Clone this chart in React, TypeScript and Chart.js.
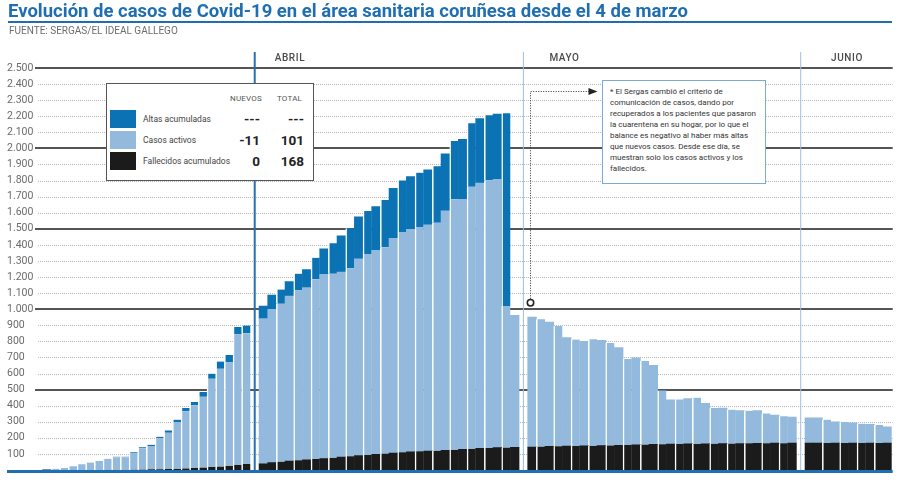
import React, { useEffect, useRef } from 'react';
import { Chart, registerables } from 'chart.js';

Chart.register(...registerables);

// ---- categories (days of each month shown) ----
const MARCH_DAYS = [8, 9, 10, 11, 12, 13, 14, 15, 16, 17, 18, 19, 20, 21, 22, 23, 24, 25, 26, 27, 28, 29, 30, 31];
const APRIL_DAYS = [1, 2, 3, 4, 5, 6, 7, 8, 9, 10, 11, 12, 13, 14, 15, 16, 17, 18, 19, 20, 21, 22, 23, 24, 25, 26, 27, 28, 29, 30];
const MAY_DAYS = [1, 2, 3, 4, 5, 6, 7, 8, 9, 10, 11, 12, 13, 14, 15, 16, 17, 18, 19, 20, 21, 22, 23, 24, 25, 26, 27, 28, 29, 30, 31];
const JUNE_DAYS = [1, 2, 3, 4, 5, 6, 7, 8, 9, 10];
const MONTH_LABELS = ['ABRIL', 'MAYO', 'JUNIO'];

// ---- series: fallecidos acumulados ----
const MARCH_DEATHS = [0, 0, 0, 0, 0, 0, 0, 1, 1, 1, 2, 3, 4, 5, 6, 8, 10, 12, 15, 18, 22, 26, 32, 37];
const APRIL_DEATHS = [39, 46, 52, 56, 60, 64, 68, 71, 76, 80, 85, 90, 94, 97, 102, 106, 110, 113, 116, 118, 120, 122, 126, 129, 132, 135, 137, 139, 140, 141];
const MAY_DEATHS = [143, 146, 147, 148, 149, 150, 150, 151, 152, 153, 154, 156, 157, 158, 159, 160, 161, 161, 162, 162, 163, 164, 164, 165, 165, 166, 166, 167, 167, 167, 167];
const JUNE_DEATHS = [168, 168, 168, 168, 168, 168, 168, 168, 168, 168];

// ---- series: casos activos ----
const MARCH_ACTIVE = [3, 7, 13, 24, 36, 46, 56, 69, 78, 78, 105, 132, 146, 193, 226, 290, 356, 390, 440, 550, 607, 643, 811, 814];
const APRIL_ACTIVE = [902, 953, 982, 1026, 1057, 1070, 1118, 1146, 1145, 1151, 1169, 1224, 1249, 1269, 1283, 1335, 1370, 1384, 1395, 1406, 1418, 1489, 1557, 1554, 1630, 1650, 1664, 1669, 880, 821];
const MAY_ACTIVE = [808, 791, 773, 748, 674, 661, 650, 662, 654, 637, 607, 534, 540, 520, 492, 335, 276, 278, 282, 288, 251, 221, 221, 210, 204, 203, 203, 185, 175, 168, 162];
const JUNE_ACTIVE = [157, 156, 145, 132, 130, 126, 120, 116, 112, 101];

// ---- series: altas acumuladas (no longer reported after 29 April) ----
const MARCH_RECOVERED = [0, 0, 0, 0, 0, 0, 0, 0, 4, 4, 5, 6, 7, 9, 14, 15, 19, 21, 30, 31, 45, 46, 46, 47];
const APRIL_RECOVERED = [79, 89, 88, 89, 104, 112, 134, 159, 189, 226, 249, 261, 268, 272, 294, 311, 321, 327, 338, 342, 351, 356, 363, 373, 394, 400, 405, 405, 1198, null];
const MAY_RECOVERED: (number | null)[] = MAY_DAYS.map(() => null);
const JUNE_RECOVERED: (number | null)[] = JUNE_DAYS.map(() => null);

const Y_MAX = 2500;
const Y_STEP = 100;
const MARKER_VALUE = 1040;
const ARROW_VALUE = 2355;

const C_DARK = '#0b72b4';
const C_LIGHT = '#93b9dd';
const C_BLACK = '#1b1b1b';
const C_TITLE = '#1f6eb4';

function joinMonths<T>(a: T[], b: T[], c: T[], d: T[]): (T | null)[] {
  return [...a, null, ...b, null, ...c, null, ...d];
}

const labels = joinMonths(
  MARCH_DAYS.map((d) => `${d} mar`),
  APRIL_DAYS.map((d) => `${d} abr`),
  MAY_DAYS.map((d) => `${d} may`),
  JUNE_DAYS.map((d) => `${d} jun`)
).map((l) => (l === null ? '' : l));

const gapIndices = [MARCH_DAYS.length, MARCH_DAYS.length + 1 + APRIL_DAYS.length, MARCH_DAYS.length + APRIL_DAYS.length + MAY_DAYS.length + 2];

// white separators between bars (per bar in March, pairs afterwards)
const separators: boolean[] = [];
MARCH_DAYS.forEach((_, i) => separators.push(i > 0));
separators.push(false);
APRIL_DAYS.forEach((_, i) => separators.push(i > 0 && i % 2 === 0));
separators.push(false);
MAY_DAYS.forEach((_, i) => separators.push(i % 2 === 1));
separators.push(false);
JUNE_DAYS.forEach((_, i) => separators.push(i > 0 && i % 2 === 0));

const fmt = (v: number) => String(v).replace(/\B(?=(\d{3})+(?!\d))/g, '.');

const overlayPlugin = {
  id: 'overlay',
  beforeDatasetsDraw(chart: any) {
    const { ctx, chartArea, scales } = chart;
    const y = scales.y;
    y.ticks.forEach((t: any) => {
      const v = t.value;
      if (v === 0) return;
      const major = v % 500 === 0;
      ctx.save();
      if (major) {
        const py = Math.round(y.getPixelForValue(v));
        ctx.strokeStyle = '#555';
        ctx.lineWidth = 2;
        ctx.beginPath();
        ctx.moveTo(35, py);
        ctx.lineTo(chartArea.right + 1, py);
        ctx.stroke();
      } else {
        const py = Math.round(y.getPixelForValue(v)) + 0.5;
        ctx.strokeStyle = '#b8b8b8';
        ctx.lineWidth = 1;
        ctx.setLineDash([1, 1]);
        ctx.beginPath();
        ctx.moveTo(38, py);
        ctx.lineTo(chartArea.right + 1, py);
        ctx.stroke();
      }
      ctx.restore();
    });
  },
  afterDatasetsDraw(chart: any) {
    const { ctx, chartArea, scales } = chart;
    const x = scales.x;
    const y = scales.y;
    const bottom = y.getPixelForValue(0);
    // month separator lines and labels
    gapIndices.forEach((gi, k) => {
      const px = x.getPixelForValue(gi);
      ctx.save();
      if (k === 0) {
        ctx.strokeStyle = '#2a6fb0';
        ctx.lineWidth = 2;
      } else {
        ctx.strokeStyle = '#9fbddb';
        ctx.lineWidth = 1;
      }
      ctx.beginPath();
      ctx.moveTo(px, chartArea.top - 16);
      ctx.lineTo(px, bottom + 2);
      ctx.stroke();
      const offs = [2.3, 3, 3.5][k];
      const lx = x.getPixelForValue(gi + offs);
      ctx.fillStyle = '#4a4a4a';
      ctx.font = '500 10px Roboto';
      ctx.textBaseline = 'middle';
      ctx.textAlign = 'left';
      (ctx as any).letterSpacing = '0.6px';
      ctx.fillText(MONTH_LABELS[k], lx, chartArea.top - 10);
      ctx.restore();
    });
    // blue baseline
    ctx.save();
    ctx.strokeStyle = '#1f6fb3';
    ctx.lineWidth = 3;
    ctx.beginPath();
    ctx.moveTo(7, bottom + 1.5);
    ctx.lineTo(chartArea.right + 1, bottom + 1.5);
    ctx.stroke();
    ctx.restore();
    // annotation arrow from first bar of May
    const mayIdx = gapIndices[1] + 1;
    const ax = Math.round(x.getPixelForValue(mayIdx) - 2) + 0.5;
    const cy = y.getPixelForValue(MARKER_VALUE);
    const ay = Math.round(y.getPixelForValue(ARROW_VALUE)) + 0.5;
    ctx.save();
    ctx.strokeStyle = '#333';
    ctx.lineWidth = 1;
    ctx.setLineDash([1, 1.5]);
    ctx.beginPath();
    ctx.moveTo(ax, cy - 4);
    ctx.lineTo(ax, ay);
    ctx.lineTo(ax + 59, ay);
    ctx.stroke();
    ctx.setLineDash([]);
    ctx.fillStyle = '#222';
    ctx.beginPath();
    ctx.moveTo(ax + 58, ay - 3.5);
    ctx.lineTo(ax + 67, ay);
    ctx.lineTo(ax + 58, ay + 3.5);
    ctx.closePath();
    ctx.fill();
    ctx.beginPath();
    ctx.arc(ax, cy, 3.2, 0, Math.PI * 2);
    ctx.fillStyle = '#fff';
    ctx.fill();
    ctx.lineWidth = 1.6;
    ctx.strokeStyle = '#222';
    ctx.stroke();
    ctx.restore();
  },
};

function ChartCanvas() {
  const ref = useRef<HTMLCanvasElement>(null);
  useEffect(() => {
    if (!ref.current) return;
    const border = (ctx: any) =>
      separators[ctx.dataIndex] ? { left: 1.5, right: 0, top: 0, bottom: 0 } : 0;
    const common = {
      barPercentage: 1,
      categoryPercentage: 1,
      borderColor: '#ffffff',
      borderWidth: border,
      borderSkipped: false,
    };
    const chart = new Chart(ref.current, {
      type: 'bar',
      data: {
        labels,
        datasets: [
          { label: 'Fallecidos acumulados', data: joinMonths(MARCH_DEATHS, APRIL_DEATHS, MAY_DEATHS, JUNE_DEATHS), backgroundColor: C_BLACK, ...common },
          { label: 'Casos activos', data: joinMonths(MARCH_ACTIVE, APRIL_ACTIVE, MAY_ACTIVE, JUNE_ACTIVE), backgroundColor: C_LIGHT, ...common },
          { label: 'Altas acumuladas', data: joinMonths(MARCH_RECOVERED, APRIL_RECOVERED, MAY_RECOVERED, JUNE_RECOVERED), backgroundColor: C_DARK, ...common },
        ] as any,
      },
      options: {
        animation: false,
        responsive: false,
        events: [],
        layout: { padding: { left: 7, right: 8.3, top: 68, bottom: 15 } },
        plugins: { legend: { display: false }, tooltip: { enabled: false }, title: { display: false } },
        scales: {
          x: { stacked: true, display: false },
          y: {
            stacked: true,
            min: 0,
            max: Y_MAX,
            grid: { display: false },
            border: { display: false },
            ticks: {
              stepSize: Y_STEP,
              crossAlign: 'far',
              color: '#6a6a6a',
              font: { family: 'Roboto', size: 10.5 },
              padding: 0,
              callback: (v: any) => (v === 0 ? '' : fmt(Number(v))),
            },
            afterFit: (s: any) => {
              s.width = 35.4;
            },
          },
        },
      } as any,
      plugins: [overlayPlugin],
    });
    return () => chart.destroy();
  }, []);
  return <canvas ref={ref} width={900} height={485} style={{ position: 'absolute', left: 0, top: 0, width: 900, height: 485 }} />;
}

const legendRows = [
  { color: C_DARK, label: 'Altas acumuladas', nuevos: '---', total: '---' },
  { color: C_LIGHT, label: 'Casos activos', nuevos: '-11', total: '101' },
  { color: C_BLACK, label: 'Fallecidos acumulados', nuevos: '0', total: '168' },
];

const NOTE_LINES = [
  '* El Sergas cambió el criterio de',
  'comunicación de casos, dando por',
  'recuperados a los pacientes que pasaron',
  'la cuarentena en su hogar, por lo que el',
  'balance es negativo al haber más altas',
  'que nuevos casos. Desde ese día, se',
  'muestran solo los casos activos y los',
  'fallecidos.',
];

export default function App() {
  return (
    <div style={{ position: 'fixed', left: 0, top: 0, width: 900, height: 485, background: '#fff', fontFamily: 'Roboto, sans-serif', overflow: 'hidden' }}>
      <ChartCanvas />
      <div style={{ position: 'absolute', left: 8, top: 0, fontSize: 18.5, lineHeight: '22px', fontWeight: 700, color: C_TITLE, whiteSpace: 'nowrap' }}>
        Evolución de casos de Covid-19 en el área sanitaria coruñesa desde el 4 de marzo
      </div>
      <div style={{ position: 'absolute', left: 8, top: 21, width: 884, height: 2, background: C_TITLE }} />
      <div style={{ position: 'absolute', left: 9, top: 25, fontSize: 10, lineHeight: '12px', color: '#6d6d6d', whiteSpace: 'nowrap', letterSpacing: '0px' }}>
        FUENTE: SERGAS/EL IDEAL GALLEGO
      </div>
      {/* legend box */}
      <div style={{ position: 'absolute', left: 106, top: 83, width: 206, height: 96, border: '1px solid #555', background: '#fff' }}>
        <div style={{ position: 'absolute', left: 123, top: 10, fontSize: 8, color: '#555', letterSpacing: '0.2px' }}>NUEVOS</div>
        <div style={{ position: 'absolute', left: 170, top: 10, fontSize: 8, color: '#555', letterSpacing: '0.2px' }}>TOTAL</div>
        {legendRows.map((r, i) => (
          <React.Fragment key={r.label}>
            <div style={{ position: 'absolute', left: 3, top: 26 + i * 21, width: 26, height: 18, background: r.color }} />
            <div style={{ position: 'absolute', left: 36, top: 29 + i * 21, fontSize: 8.5, lineHeight: '12px', color: '#444', whiteSpace: 'nowrap' }}>{r.label}</div>
            <div style={{ position: 'absolute', right: 206 - 153, top: 27 + i * 21, fontSize: 13.5, lineHeight: '16px', fontWeight: 700, color: '#222', textAlign: 'right' }}>{r.nuevos}</div>
            <div style={{ position: 'absolute', right: 206 - 197, top: 27 + i * 21, fontSize: 13.5, lineHeight: '16px', fontWeight: 700, color: '#222', textAlign: 'right' }}>{r.total}</div>
          </React.Fragment>
        ))}
      </div>
      {/* annotation box */}
      <div style={{ position: 'absolute', left: 602, top: 80, width: 155, height: 97, border: '1.5px solid #7ea9d2', background: '#fff', padding: '5px 0 0 7px', boxSizing: 'content-box' as any }}>
        {NOTE_LINES.map((l) => (
          <div key={l} style={{ fontSize: 8, lineHeight: '11px', color: '#333', whiteSpace: 'nowrap' }}>{l}</div>
        ))}
      </div>
    </div>
  );
}
